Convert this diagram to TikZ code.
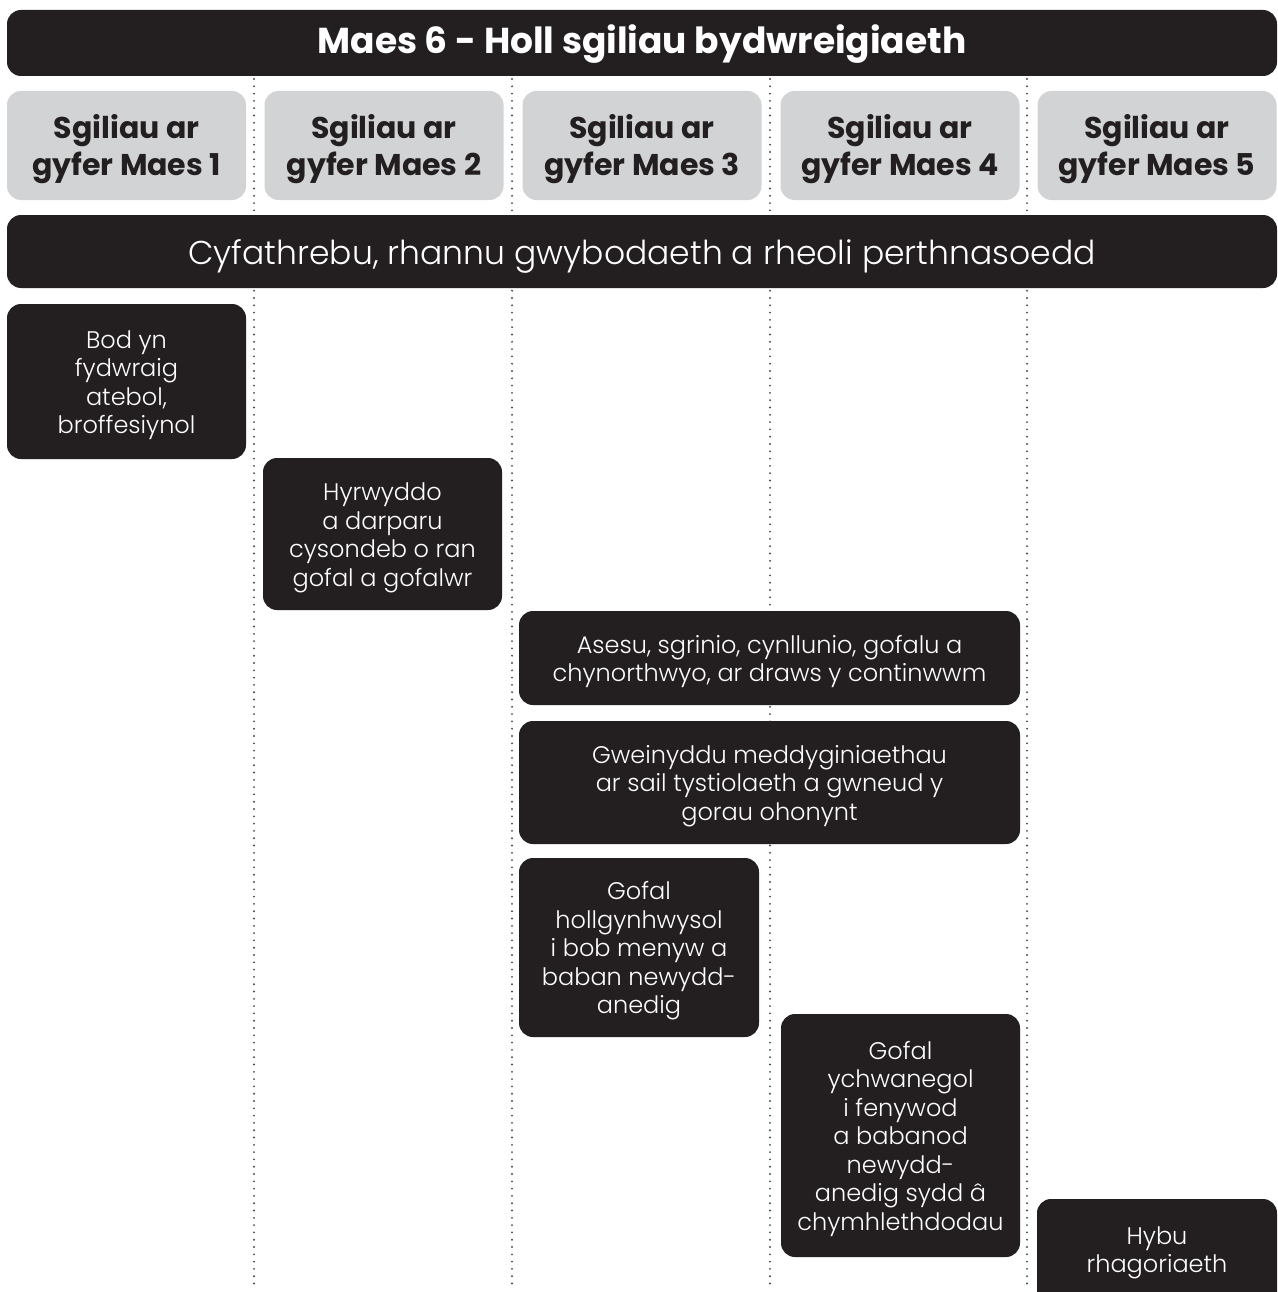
\documentclass[tikz,border=0pt]{standalone}
\usepackage{fontspec}
\setmainfont{Poppins}[UprightFont=* Light, BoldFont=* Bold]
\definecolor{boxdark}{HTML}{231F20}
\definecolor{boxgray}{HTML}{D1D3D4}
\definecolor{dotgray}{HTML}{4D4D4D}
% vertical struts: fix first-line height and last-line depth
\newcommand\topst[1]{\rule{0pt}{#1}}
\newcommand\botst[1]{\rule[-#1]{0pt}{#1}}
\newcommand\bt{\topst{26.5pt}}
\newcommand\bb{\botst{8pt}}
\begin{document}
\begin{tikzpicture}[x=1pt,y=-1pt,
  darkbox/.style={fill=boxdark, rounded corners=14pt, text=white, align=center, inner sep=0pt,
    font=\fontsize{24}{28.5}\selectfont},
  bodytext/.style={text=white, align=center, inner sep=0pt, font=\fontsize{24}{28.5}\selectfont},
  graybox/.style={fill=boxgray, rounded corners=14pt, text=boxdark, align=center, inner sep=0pt,
    font=\bfseries\fontsize{30}{37}\selectfont, minimum width=239pt, minimum height=109pt},
  dotline/.style={dotgray, line width=2.1pt, dash pattern=on 0pt off 7.3pt, line cap=round}]
\useasboundingbox (0,0) rectangle (1277,1292);
\fill[white] (0,0) rectangle (1277,1292);
% column separators
\foreach \x in {254,512,770,1027} \draw[dotline] (\x,79) -- (\x,1290);
% title
\node[darkbox, minimum width=1270pt, minimum height=66pt, font=\bfseries\fontsize{36}{42}\selectfont] (title) at (642,43) {\topst{31pt}Maes 6 - Holl sgiliau bydwreigiaeth\botst{10pt}};
% headers
\node[graybox] (h1) at (126.5,145.5) {\topst{33pt}Sgiliau ar\\gyfer Maes 1\botst{9pt}};
\node[graybox] (h2) at (384,145.5) {\topst{33pt}Sgiliau ar\\gyfer Maes 2\botst{9pt}};
\node[graybox] (h3) at (642,145.5) {\topst{33pt}Sgiliau ar\\gyfer Maes 3\botst{9pt}};
\node[graybox] (h4) at (900,145.5) {\topst{33pt}Sgiliau ar\\gyfer Maes 4\botst{9pt}};
\node[graybox] (h5) at (1157,145.5) {\topst{33pt}Sgiliau ar\\gyfer Maes 5\botst{9pt}};
% communication bar
\node[darkbox, minimum width=1270pt, minimum height=73pt, font=\fontsize{33}{40}\selectfont] (comm) at (642,251.5) {\topst{35pt}Cyfathrebu, rhannu gwybodaeth a rheoli perthnasoedd\botst{10pt}};
% skill boxes
\node[darkbox, minimum width=239pt, minimum height=155pt] (a) at (126.5,381.5) {\bt Bod yn\\fydwraig\\atebol,\\broffesiynol\bb};
\node[darkbox, minimum width=239pt, minimum height=152pt] (b) at (382.5,534) {\bt Hyrwyddo\\a darparu\\cysondeb o ran\\gofal a gofalwr\bb};
\node[darkbox, minimum width=501pt, minimum height=94pt] (c) at (769.5,658) {\bt Asesu, sgrinio, cynllunio, gofalu a\\chynorthwyo, ar draws y continwwm\bb};
\node[darkbox, minimum width=501pt, minimum height=123pt] (d) at (769.5,782.5) {\bt Gweinyddu meddyginiaethau\\ar sail tystiolaeth a gwneud y\\gorau ohonynt\bb};
\node[darkbox, minimum width=240pt, minimum height=179pt] (e) at (639,947.5) {\bt Gofal\\hollgynhwysol\\i bob menyw a\\baban newydd-\\anedig\bb};
\node[darkbox, minimum width=239pt, minimum height=243pt] (f) at (900.5,1135.5) {\bt Gofal\\ychwanegol\\i fenywod\\a babanod\\newydd-\\anedig sydd â\\chymhlethdodau\bb};
\node[darkbox, minimum width=240pt, minimum height=120pt] (g) at (1157,1259) {};
\node[bodytext] (gt) at (1157,1249) {\bt Hybu\\rhagoriaeth\bb};
\end{tikzpicture}
\end{document}
